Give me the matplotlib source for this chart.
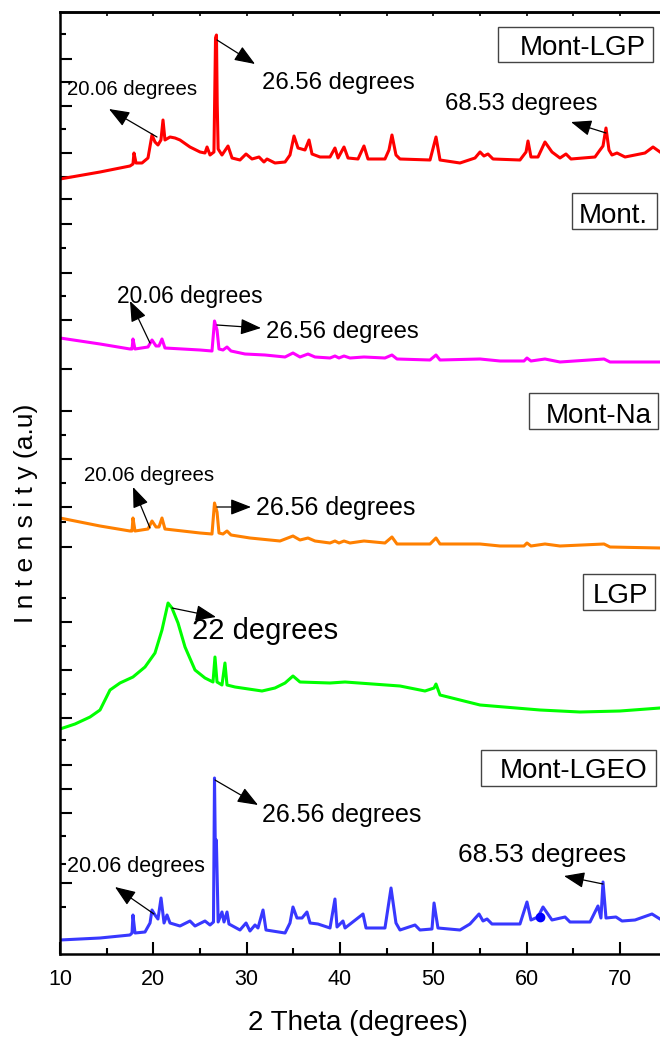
import matplotlib
matplotlib.use("Agg")
import matplotlib.pyplot as plt
from matplotlib.patches import Rectangle

plt.rcParams['font.family'] = ['Liberation Sans', 'DejaVu Sans']

# ---------------- data (2-theta in degrees, stacked intensity in a.u.) ----------------
mont_lgp = [(10.0, 775), (14.29, 782), (17.50, 788), (17.82, 790), (17.93, 801), (18.15, 791),
            (18.79, 791), (19.43, 796), (19.86, 819), (20.18, 812), (20.50, 809), (20.82, 814),
            (21.04, 834), (21.25, 814), (21.79, 817), (22.33, 816), (22.86, 814), (23.93, 807),
            (25.01, 802), (25.54, 801), (25.76, 807), (26.08, 799), (26.50, 802), (26.67, 916),
            (26.77, 919), (26.85, 850), (26.95, 805), (27.36, 799), (28.01, 808), (28.44, 796),
            (29.29, 794), (29.94, 800), (30.58, 795), (31.33, 797), (31.86, 792), (32.19, 795),
            (33.04, 791), (34.12, 792), (34.65, 799), (35.08, 818), (35.51, 806), (36.26, 804),
            (36.69, 814), (37.01, 800), (37.87, 797), (38.94, 797), (39.47, 806), (39.80, 796),
            (40.44, 807), (40.87, 796), (41.94, 795), (42.58, 808), (43.01, 795), (44.83, 795),
            (45.26, 804), (45.58, 819), (46.01, 799), (46.44, 795), (49.66, 794), (50.30, 817),
            (50.73, 794), (52.87, 791), (54.48, 796), (55.02, 802), (55.44, 798), (55.87, 800),
            (56.41, 795), (59.30, 794), (59.95, 802), (60.16, 813), (60.48, 797), (61.23, 797),
            (61.98, 812), (62.73, 802), (63.59, 796), (64.23, 800), (64.77, 795), (67.34, 797),
            (67.88, 804), (68.20, 808), (68.52, 826), (68.84, 804), (69.16, 799), (69.70, 801),
            (70.56, 797), (72.70, 801), (73.56, 807), (74.31, 802)]

mont = [(10.0, 616), (14.29, 610), (17.50, 605), (17.72, 605), (17.82, 615), (18.04, 605),
        (19.43, 607), (19.86, 614), (20.29, 608), (20.61, 608), (20.93, 615), (21.25, 606),
        (25.01, 604), (26.29, 603), (26.56, 633), (26.83, 624), (27.04, 605), (27.47, 604),
        (27.90, 607), (28.33, 603), (29.83, 600), (31.97, 599), (34.12, 597), (34.97, 601),
        (35.72, 597), (36.58, 600), (37.33, 597), (38.94, 596), (39.47, 598), (39.90, 596),
        (40.44, 598), (41.08, 596), (42.58, 597), (44.83, 596), (45.58, 599), (46.12, 595),
        (49.66, 594), (50.30, 599), (50.73, 594), (55.02, 595), (57.16, 593), (59.73, 593),
        (60.05, 596), (60.48, 593), (61.98, 595), (63.59, 592), (68.31, 595), (68.95, 592),
        (74.31, 592)]

mont_na = [(10.0, 436), (14.29, 428), (17.50, 423), (17.72, 423), (17.82, 436), (18.04, 423),
           (19.43, 425), (19.86, 433), (20.29, 427), (20.61, 427), (20.93, 436), (21.25, 425),
           (25.01, 421), (26.29, 420), (26.56, 451), (26.83, 442), (27.04, 421), (27.47, 420),
           (27.90, 423), (28.33, 419), (30.36, 416), (33.58, 413), (34.97, 418), (35.72, 414),
           (36.58, 416), (37.33, 413), (38.94, 411), (39.47, 413), (39.90, 411), (40.44, 413),
           (41.08, 411), (42.58, 413), (44.83, 411), (45.58, 417), (46.12, 410), (49.66, 410),
           (50.30, 416), (50.73, 410), (55.02, 410), (57.16, 408), (59.73, 408), (60.05, 411),
           (60.48, 408), (61.98, 410), (63.59, 408), (68.31, 410), (68.95, 407), (74.31, 406)]

lgp = [(10.0, 225), (11.61, 230), (13.22, 237), (14.29, 244), (15.36, 264), (16.43, 271),
       (17.82, 277), (19.11, 287), (20.18, 301), (20.93, 324), (21.58, 351), (22.00, 346),
       (22.65, 331), (23.40, 307), (24.47, 284), (25.54, 276), (26.40, 272), (26.61, 297),
       (26.83, 272), (27.36, 269), (27.68, 291), (27.90, 269), (28.76, 267), (31.65, 263),
       (33.04, 266), (34.12, 271), (34.97, 278), (35.72, 272), (38.94, 271), (40.55, 272),
       (46.44, 268), (49.12, 263), (50.09, 266), (50.30, 270), (50.73, 259), (55.02, 249),
       (61.45, 244), (65.73, 242), (70.02, 243), (74.31, 246)]

mont_lgeo = [(10.0, 14), (14.29, 16), (17.50, 19), (17.72, 21), (17.82, 39), (18.04, 21),
             (19.11, 22), (19.65, 31), (19.86, 44), (20.18, 39), (20.50, 35), (20.83, 56),
             (21.15, 31), (21.47, 39), (21.79, 31), (22.86, 28), (23.93, 33), (24.47, 28),
             (25.54, 33), (26.08, 29), (26.45, 32), (26.56, 176), (26.66, 94), (26.76, 114),
             (26.95, 32), (27.36, 42), (27.58, 32), (27.90, 42), (28.11, 30), (29.29, 24),
             (29.94, 31), (30.36, 23), (30.90, 29), (31.22, 26), (31.76, 44), (32.08, 24),
             (34.12, 21), (34.65, 31), (34.97, 47), (35.40, 36), (35.94, 36), (36.47, 42),
             (36.80, 31), (37.65, 30), (38.94, 26), (39.47, 55), (39.69, 27), (40.33, 33),
             (40.55, 26), (42.48, 40), (42.80, 26), (44.83, 26), (45.48, 66), (46.01, 31),
             (46.44, 24), (48.05, 29), (48.58, 24), (49.87, 25), (50.09, 51), (50.51, 26),
             (52.87, 24), (53.94, 30), (54.91, 40), (55.34, 33), (55.77, 35), (56.30, 30),
             (59.30, 30), (60.05, 52), (60.48, 34), (61.23, 37), (61.77, 47), (62.73, 34),
             (64.13, 37), (64.66, 32), (66.81, 32), (67.66, 48), (67.98, 36), (68.20, 72),
             (68.52, 36), (69.59, 37), (70.24, 33), (71.63, 34), (73.45, 40), (74.31, 35)]

lgeo_marker = (61.45, 37)

series_names = ['Mont-LGP', 'Mont.', 'Mont-Na', 'LGP', 'Mont-LGEO']
series_data = [mont_lgp, mont, mont_na, lgp, mont_lgeo]
series_colors = ['#ff0000', '#ff00ff', '#ff8000', '#00ff00', '#3838ff']

x_ticks_major = [10, 20, 30, 40, 50, 60, 70]
x_ticks_minor = [15, 25, 35, 45, 55, 65]
y_ticks_long = [894.7, 872.3, 848, 801.3, 777.3, 755, 730, 681.3, 634, 585, 543, 495, 447,
                407, 332, 284, 236, 189, 165, 141, 71]
y_ticks_short = [919.7, 825, 706, 658, 519, 471, 432, 356, 308, 260, 214, 118, 90, 47]

# ---------------- figure ----------------
W, H = 660, 1039
fig = plt.figure(figsize=(W / 100, H / 100), dpi=100)


def P(x, y):
    return (x / W, 1 - y / H)


ax = fig.add_axes([60 / W, (H - 954) / H, 600 / W, 942 / H])
ax.set_xlim(10, 10 + 600 / 9.33)
ax.set_ylim(0, 942)

for data, col in zip(series_data, series_colors):
    xs = [p[0] for p in data]
    ys = [p[1] for p in data]
    ax.plot(xs, ys, color=col, lw=2.2, solid_joinstyle='round')
ax.plot([lgeo_marker[0]], [lgeo_marker[1]], 'o', color='#0000ff', ms=6)

ax.spines['right'].set_visible(False)
for s in ['left', 'bottom', 'top']:
    ax.spines[s].set_linewidth(1.8)

ax.set_xticks(x_ticks_major)
ax.set_xticks(x_ticks_minor, minor=True)
ax.set_xticklabels([str(v) for v in x_ticks_major], fontsize=15.5)
ax.set_yticks(y_ticks_long)
ax.set_yticks(y_ticks_short, minor=True)
ax.set_yticklabels([])
ax.tick_params(axis='both', which='major', direction='in', length=8.6, width=1.5, pad=11)
ax.tick_params(axis='both', which='minor', direction='in', length=4.3, width=1.5)
ax.tick_params(axis='x', which='both', top=False)
ax.tick_params(axis='y', which='both', right=False)

sec = ax.secondary_xaxis('top')
sec.set_xticks([15, 20, 25, 30, 35, 40, 45, 50, 55, 60, 65, 70])
sec.set_xticklabels([])
sec.tick_params(direction='in', length=3, width=1.2)
sec.spines['top'].set_linewidth(1.8)

fig.text(*P(358, 1023), '2 Theta (degrees)', fontsize=20, ha='center', va='center')
fig.text(*P(26, 513), 'I n t e n s i t y (a.u)', fontsize=19, ha='center', va='center',
         rotation=90)

# ---------------- sample labels ----------------
boxes = [((498, 27, 653, 62), 646, 55),
         ((572, 193, 657, 229), 648, 223),
         ((529, 393, 658, 429), 652, 423),
         ((583, 574, 655, 610), 648, 603),
         ((481, 750, 656, 786), 647, 778)]
for name, ((x0, y0, x1, y1), tx, ty) in zip(series_names, boxes):
    fig.patches.append(Rectangle(P(x0, y1), (x1 - x0) / W, (y1 - y0) / H,
                                 transform=fig.transFigure, fill=False,
                                 ec='#444444', lw=1.0))
    fig.text(*P(tx, ty), name, fontsize=20, ha='right', va='baseline')

# ---------------- peak annotations ----------------
# (text, text_left_px, baseline_px, fontsize, arrow_tail_px, arrow_head_px)
notes = [
    ('26.56 degrees', 262, 89, 17.2, (217, 40), (255, 64)),
    ('20.06 degrees', 67, 95, 14.7, (157, 137), (109, 109)),
    ('68.53 degrees', 445, 110, 17.2, (606, 133), (571, 122)),
    ('20.06 degrees', 117, 303, 16.4, (150, 343), (130, 301)),
    ('26.56 degrees', 266, 338, 17.2, (217, 325), (261, 328)),
    ('20.06 degrees', 84, 481, 14.7, (150, 528), (133, 487)),
    ('26.56 degrees', 256, 515, 18.0, (217, 507), (251, 507)),
    ('22 degrees', 192, 639, 21.0, (172, 608), (216, 617)),
    ('26.56 degrees', 262, 822, 18.0, (215, 780), (258, 805)),
    ('20.06 degrees', 67, 872, 15.5, (154, 914), (115, 887)),
    ('68.53 degrees', 458, 862, 19.0, (603, 884), (564, 876)),
]
for txt, tx, ty, fs, tail, head in notes:
    fig.text(*P(tx, ty), txt, fontsize=fs, ha='left', va='baseline')
    ax.annotate('', xy=P(*head), xycoords='figure fraction',
                xytext=P(*tail), textcoords='figure fraction',
                arrowprops=dict(arrowstyle='-|>,head_length=0.9,head_width=0.35',
                                color='black', lw=0.9, shrinkA=0, shrinkB=0,
                                mutation_scale=14))

fig.savefig('out.png', dpi=100)
